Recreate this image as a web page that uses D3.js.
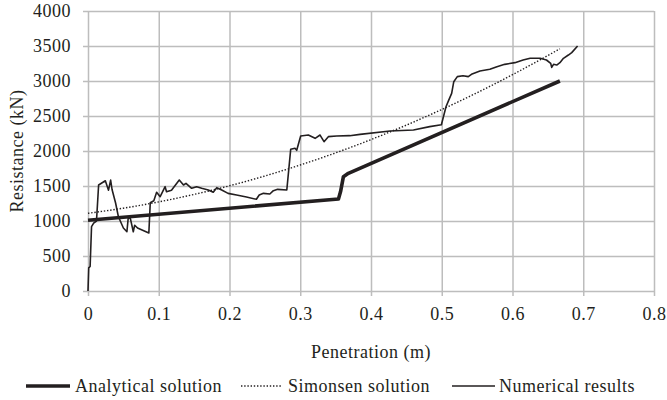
<!DOCTYPE html>
<html>
<head>
<meta charset="utf-8">
<script src="https://cdn.jsdelivr.net/npm/d3@7"></script>
<style>
	body { margin: 0; background: #fff; }
	svg { display: block; }
	text { font-family: 'Liberation Serif', serif; fill: #231f20; }
	.axis path { display: none; }
	.axis line { stroke: #bdbdbd; stroke-width: 1.5; }
	.axis text { font-size: 18px; letter-spacing: 0.5px; }
</style>
</head>
<body>
<div class="chart"></div>
<script>
// penetration (m) / resistance (kN)
const analyticalX = [0, 0.354, 0.357, 0.361, 0.368, 0.667]
const analyticalY = [1010, 1315, 1420, 1633, 1681, 3000]

const simonsenX = [0, 0.05, 0.1, 0.15, 0.2, 0.25, 0.3, 0.35, 0.4, 0.45, 0.5, 0.55, 0.6, 0.667]
const simonsenY = [1110, 1183, 1273, 1380, 1503, 1643, 1800, 1973, 2163, 2370, 2593, 2833, 3090, 3460]

const numericalX = [0, 0.001, 0.003, 0.005, 0.008, 0.012, 0.015, 0.0245, 0.029, 0.032, 0.034, 0.039,
	0.043, 0.05, 0.055, 0.057, 0.06, 0.064, 0.066, 0.07, 0.086, 0.088, 0.093, 0.097, 0.102, 0.109,
	0.111, 0.118, 0.129, 0.135, 0.1385, 0.1465, 0.1535, 0.1607, 0.17, 0.177, 0.182, 0.189, 0.198,
	0.21, 0.224, 0.238, 0.242, 0.248, 0.257, 0.262, 0.268, 0.281, 0.2865, 0.2926, 0.295, 0.3006,
	0.3114, 0.321, 0.328, 0.3336, 0.3397, 0.3515, 0.37, 0.3845, 0.427, 0.46, 0.483, 0.4995, 0.506,
	0.509, 0.514, 0.517, 0.522, 0.53, 0.5375, 0.542, 0.554, 0.568, 0.578, 0.589, 0.6035, 0.615,
	0.625, 0.639, 0.648, 0.654, 0.6554, 0.658, 0.6625, 0.667, 0.672, 0.679, 0.6837, 0.692]
const numericalY = [0, 330, 350, 920, 970, 1000, 1515, 1575, 1440, 1585, 1450, 1257,
	1060, 900, 847, 1060, 1030, 847, 940, 900, 828, 1260, 1290, 1410, 1347, 1490,
	1419, 1440, 1586, 1514, 1538, 1467, 1490, 1467, 1443, 1410, 1476, 1443, 1395,
	1371, 1343, 1310, 1371, 1395, 1386, 1433, 1452, 1443, 2024, 2038, 2010, 2214,
	2228, 2181, 2228, 2133, 2205, 2214, 2219, 2238, 2286, 2300, 2348, 2375, 2633,
	2705, 2824, 2990, 3062, 3076, 3062, 3095, 3143, 3167, 3205, 3238, 3262, 3300,
	3324, 3324, 3300, 3252, 3195, 3238, 3228, 3262, 3324, 3371, 3405, 3500]

const xTicks = [0, 0.1, 0.2, 0.3, 0.4, 0.5, 0.6, 0.7, 0.8]
const yTicks = [0, 500, 1000, 1500, 2000, 2500, 3000, 3500, 4000]

const legendLabels = ['Analytical solution', 'Simonsen solution', 'Numerical results']

const width = 667
const height = 400
const margin = { top: 11, left: 88, right: 13, bottom: 109 }
const plotW = width - margin.left - margin.right
const plotH = height - margin.top - margin.bottom
const tick = 5

const scaleX = d3.scaleLinear().domain([0, 0.8]).range([0, plotW])
const scaleY = d3.scaleLinear().domain([0, 4000]).range([plotH, 0])

const zip = (xs, ys) => xs.map((x, i) => [x, ys[i]])

const svg = d3.select('.chart').append('svg')
	.attr('width', width)
	.attr('height', height)

const g = svg.append('g')
	.attr('transform', `translate(${margin.left}, ${margin.top})`)

// gridlines double as the axes, poking out a few px like the original
g.append('g')
	.attr('class', 'axis axis--x')
	.attr('transform', `translate(0, ${plotH + tick})`)
	.call(d3.axisBottom(scaleX).tickValues(xTicks).tickSize(-(plotH + tick)).tickPadding(11)
		.tickFormat(d => d === 0 ? '0' : d3.format('.1f')(d)))

g.append('g')
	.attr('class', 'axis axis--y')
	.attr('transform', `translate(${-tick}, 0)`)
	.call(d3.axisLeft(scaleY).tickValues(yTicks).tickSize(-(plotW + tick)).tickPadding(12)
		.tickFormat(d3.format('d')))

const line = d3.line()
	.x(d => scaleX(d[0]))
	.y(d => scaleY(d[1]))

g.append('path')
	.datum(zip(simonsenX, simonsenY))
	.attr('fill', 'none')
	.attr('stroke', '#231f20')
	.attr('stroke-width', 1.4)
	.attr('stroke-dasharray', '1.4 1.8')
	.attr('d', line.curve(d3.curveMonotoneX))

g.append('path')
	.datum(zip(numericalX, numericalY))
	.attr('fill', 'none')
	.attr('stroke', '#231f20')
	.attr('stroke-width', 1.6)
	.attr('stroke-linejoin', 'round')
	.attr('d', line.curve(d3.curveLinear))

g.append('path')
	.datum(zip(analyticalX, analyticalY))
	.attr('fill', 'none')
	.attr('stroke', '#231f20')
	.attr('stroke-width', 3.6)
	.attr('stroke-linejoin', 'round')
	.attr('d', line.curve(d3.curveLinear))

// axis titles
svg.append('text')
	.attr('x', margin.left + plotW / 2)
	.attr('y', 358)
	.attr('text-anchor', 'middle')
	.style('font-size', '18px')
	.style('letter-spacing', '0.5px')
	.text('Penetration (m)')

svg.append('text')
	.attr('transform', `translate(23, ${margin.top + plotH / 2}) rotate(-90)`)
	.attr('text-anchor', 'middle')
	.style('font-size', '18px')
	.style('letter-spacing', '0.5px')
	.text('Resistance (kN)')

// legend
const legendItems = [
	{ x1: 26, x2: 70, tx: 75, w: 3.6, dash: null },
	{ x1: 241, x2: 282, tx: 288, w: 1.4, dash: '1.4 1.8' },
	{ x1: 452, x2: 495, tx: 499, w: 1.6, dash: null },
]
const legendY = 386

const legend = svg.append('g').attr('class', 'legend')
legendItems.forEach((d, i) => {
	legend.append('line')
		.attr('x1', d.x1).attr('x2', d.x2)
		.attr('y1', legendY).attr('y2', legendY)
		.attr('stroke', '#231f20')
		.attr('stroke-width', d.w)
		.attr('stroke-dasharray', d.dash)
	legend.append('text')
		.attr('x', d.tx)
		.attr('y', legendY + 6)
		.style('font-size', '18px')
		.style('letter-spacing', '0.5px')
		.text(legendLabels[i])
})
</script>
</body>
</html>
